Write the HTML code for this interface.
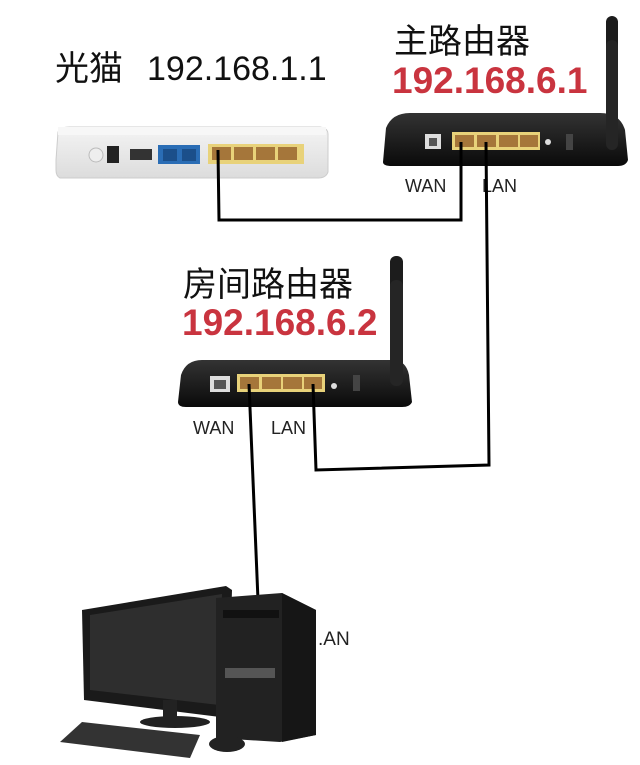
<!DOCTYPE html>
<html><head><meta charset="utf-8"><style>
html,body{margin:0;padding:0;background:#fff;}
svg{display:block}
text{font-family:"Liberation Sans","Noto Sans CJK SC",sans-serif;}
</style></head><body>
<svg width="640" height="765" viewBox="0 0 640 765" xmlns="http://www.w3.org/2000/svg">
<defs>
<linearGradient id="mg" x1="0" y1="0" x2="0" y2="1"><stop offset="0" stop-color="#f4f4f4"/><stop offset="1" stop-color="#dcdcdc"/></linearGradient>
<linearGradient id="rg" x1="0" y1="0" x2="0" y2="1"><stop offset="0" stop-color="#333"/><stop offset="1" stop-color="#0a0a0a"/></linearGradient>
</defs>
<rect width="640" height="765" fill="#fff"/>

<!-- labels -->
<text x="55" y="80" font-size="34" fill="#111">光猫</text>
<text x="147" y="80" font-size="34" fill="#111">192.168.1.1</text>
<text x="394" y="53" font-size="34" fill="#111">主路由器</text>
<text x="392" y="93" font-size="37" font-weight="bold" fill="#c9343f">192.168.6.1</text>
<text x="183" y="296" font-size="34" fill="#111">房间路由器</text>
<text x="182" y="335" font-size="37" font-weight="bold" fill="#c9343f">192.168.6.2</text>

<!-- modem -->
<path d="M56 160 L58 132 Q60 127 70 127 L320 127 Q328 128 328 134 L328 172 Q326 178 318 178 L60 178 Q56 176 56 170 Z" fill="url(#mg)" stroke="#ccc"/>
<rect x="58" y="127" width="268" height="8" fill="#f7f7f7"/>
<circle cx="96" cy="155" r="7" fill="#eee" stroke="#bbb"/>
<rect x="107" y="146" width="12" height="17" fill="#222"/>
<rect x="130" y="149" width="22" height="11" fill="#333"/>
<rect x="158" y="145" width="42" height="19" fill="#2a6db5"/>
<rect x="163" y="149" width="14" height="12" fill="#1b4f8a"/><rect x="182" y="149" width="14" height="12" fill="#1b4f8a"/>
<rect x="208" y="144" width="96" height="20" fill="#e8d27a"/>
<g fill="#a5763a"><rect x="212" y="147" width="19" height="13"/><rect x="234" y="147" width="19" height="13"/><rect x="256" y="147" width="19" height="13"/><rect x="278" y="147" width="19" height="13"/></g>

<!-- main router -->
<rect x="606" y="16" width="12" height="135" rx="6" fill="#1c1c1c"/>
<path d="M383 162 L386 128 Q392 113 410 113 L600 113 Q620 113 625 130 L628 160 Q626 166 618 166 L392 166 Q383 166 383 162 Z" fill="url(#rg)"/>
<rect x="606" y="40" width="12" height="110" rx="6" fill="#252525"/>
<rect x="425" y="134" width="16" height="15" fill="#ddd"/><rect x="429" y="138" width="8" height="8" fill="#555"/>
<rect x="452" y="132" width="88" height="18" fill="#e8d27a"/>
<g fill="#a5763a"><rect x="455" y="135" width="19" height="12"/><rect x="477" y="135" width="19" height="12"/><rect x="499" y="135" width="19" height="12"/><rect x="520" y="135" width="18" height="12"/></g>
<circle cx="548" cy="142" r="3" fill="#ddd"/>
<rect x="566" y="134" width="7" height="16" fill="#444"/>
<text x="405" y="192" font-size="18" fill="#222">WAN</text>
<text x="482" y="192" font-size="18" fill="#222">LAN</text>

<!-- room router -->
<rect x="390" y="256" width="13" height="130" rx="6" fill="#1c1c1c"/>
<path d="M178 402 L181 375 Q186 360 202 360 L392 360 Q406 360 409 375 L412 402 Q410 407 402 407 L186 407 Q178 407 178 402 Z" fill="url(#rg)"/>
<rect x="390" y="280" width="13" height="106" rx="6" fill="#252525"/>
<rect x="210" y="376" width="20" height="16" fill="#ddd"/><rect x="214" y="380" width="12" height="9" fill="#555"/>
<rect x="237" y="374" width="88" height="18" fill="#e8d27a"/>
<g fill="#a5763a"><rect x="240" y="377" width="19" height="12"/><rect x="262" y="377" width="19" height="12"/><rect x="283" y="377" width="19" height="12"/><rect x="304" y="377" width="18" height="12"/></g>
<circle cx="334" cy="386" r="3" fill="#ddd"/>
<rect x="353" y="375" width="7" height="16" fill="#444"/>
<text x="193" y="434" font-size="18" fill="#222">WAN</text>
<text x="271" y="434" font-size="18" fill="#222">LAN</text>

<!-- cables -->
<g fill="none" stroke="#000" stroke-width="3">
<polyline points="218,150 219,220 461,220 461,142"/>
<polyline points="486,142 489,465 316,470 313,384"/>
<polyline points="249,384 258,600"/>
</g>

<!-- PC -->
<path d="M82 610 L226 586 L232 590 L228 718 L84 700 Z" fill="#1a1a1a"/>
<path d="M90 615 L222 594 L219 705 L90 690 Z" fill="#2e2e2e"/>
<rect x="163" y="700" width="14" height="20" fill="#222"/>
<ellipse cx="175" cy="722" rx="35" ry="6" fill="#222"/>
<path d="M216 598 L282 593 L316 610 L316 735 L280 742 L216 738 Z" fill="#222"/>
<path d="M282 593 L316 610 L316 735 L282 742 Z" fill="#161616"/>
<rect x="223" y="610" width="56" height="8" fill="#111"/>
<rect x="225" y="668" width="50" height="10" fill="#555"/>
<path d="M60 742 L82 722 L200 735 L190 758 Z" fill="#333"/>
<ellipse cx="227" cy="744" rx="18" ry="8" fill="#222"/>
<text x="318" y="645" font-size="19" fill="#222">.AN</text>
</svg>
</body></html>
